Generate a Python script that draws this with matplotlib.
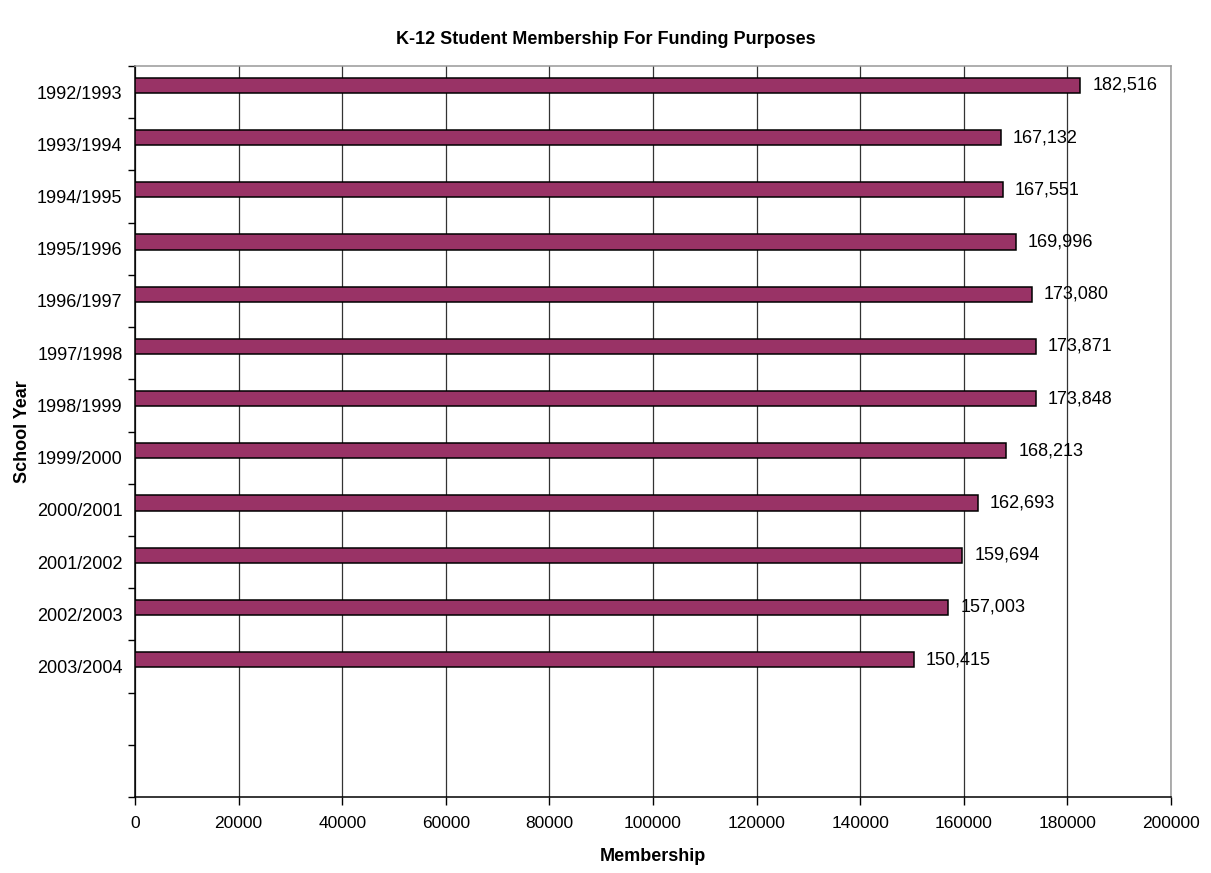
import numpy as np
import matplotlib.pyplot as plt
import matplotlib.ticker as mticker

plt.rcParams['font.family'] = ['Liberation Sans', 'DejaVu Sans']

# ── Datos ────────────────────────────────────────────────────────────────────
years = ['1992/1993', '1993/1994', '1994/1995', '1995/1996', '1996/1997',
         '1997/1998', '1998/1999', '1999/2000', '2000/2001', '2001/2002',
         '2002/2003', '2003/2004']
membership = [182516, 167132, 167551, 169996, 173080, 173871,
              173848, 168213, 162693, 159694, 157003, 150415]
n_slots = 14   # two empty category slots at the bottom, as in the original

fig = plt.figure(figsize=(12.11, 8.73), dpi=100)
ax = fig.add_axes([0.1115, 0.087, 0.8555, 0.8374])

pos = np.arange(len(years))
ax.barh(pos - 0.13, membership, height=0.29, color='#993366',
        edgecolor='black', linewidth=1.1, zorder=3)

for p, v in zip(pos, membership):
    ax.text(v + 2300, p - 0.13, f'{v:,}', va='center', ha='left', fontsize=13, zorder=4)

ax.set_xlim(0, 200000)
ax.set_ylim(n_slots - 0.5, -0.5)
ax.xaxis.set_major_locator(mticker.MultipleLocator(20000))
ax.xaxis.set_major_formatter(mticker.FormatStrFormatter('%d'))

ax.set_yticks(pos)
ax.set_yticklabels(years)
ax.set_yticks(np.arange(n_slots + 1) - 0.5, minor=True)
ax.tick_params(axis='y', which='major', length=0, pad=9, labelsize=13)
ax.tick_params(axis='y', which='minor', length=5, width=1, direction='out')
ax.tick_params(axis='x', which='major', length=6, width=1, direction='out', labelsize=12.5, pad=8)

ax.grid(axis='x', color='#333333', lw=0.9, zorder=0)
for s in ['left', 'bottom']:
    ax.spines[s].set_color('black')
    ax.spines[s].set_linewidth(1.1)
for s in ['top', 'right']:
    ax.spines[s].set_color('#999999')
    ax.spines[s].set_linewidth(1.1)

ax.set_xlabel('Membership', fontsize=13, fontweight='bold', labelpad=12)
ax.set_ylabel('School Year', fontsize=13, fontweight='bold', labelpad=4)
fig.text(0.5, 1 - 40 / 873, 'K-12 Student Membership For Funding Purposes',
         fontsize=13, fontweight='bold', ha='center', va='center')

plt.savefig('out.png', dpi=100)
